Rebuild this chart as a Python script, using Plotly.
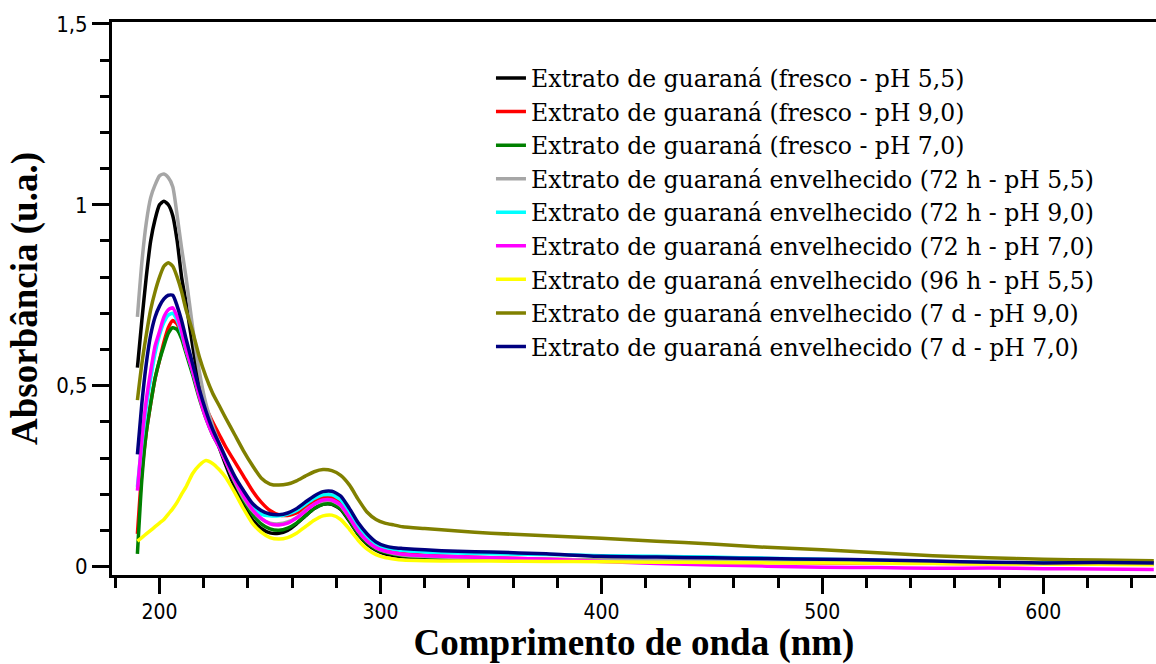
import plotly.graph_objects as go

wavelength = [190, 192, 194, 196, 198, 200, 202, 204, 206, 208, 210, 212, 215, 218, 221, 224, 227, 230,
              234, 238, 242, 246, 250, 254, 258, 262, 266, 270, 274, 278, 282, 286, 290, 294, 298, 302,
              306, 310, 320, 335, 350, 375, 400, 425, 450, 475, 500, 525, 550, 575, 600, 625, 650]

fresco_ph55 = [0.55, 0.68, 0.80, 0.90, 0.96, 1.00, 1.01, 1.00, 0.97, 0.90, 0.80, 0.73, 0.61, 0.51, 0.44, 0.38, 0.33, 0.28,
               0.22, 0.17, 0.13, 0.105, 0.093, 0.092, 0.10, 0.118, 0.14, 0.16, 0.172, 0.172, 0.158, 0.125, 0.088, 0.062, 0.045, 0.035,
               0.030, 0.027, 0.024, 0.022, 0.020, 0.018, 0.016, 0.015, 0.014, 0.013, 0.012, 0.011, 0.010, 0.010, 0.009, 0.009, 0.008]

fresco_ph90 = [0.09, 0.26, 0.37, 0.45, 0.52, 0.57, 0.62, 0.66, 0.68, 0.67, 0.64, 0.60, 0.545, 0.49, 0.44, 0.40, 0.365, 0.33,
               0.29, 0.25, 0.21, 0.178, 0.155, 0.143, 0.141, 0.148, 0.163, 0.18, 0.19, 0.19, 0.176, 0.14, 0.102, 0.074, 0.056, 0.046,
               0.040, 0.036, 0.031, 0.027, 0.024, 0.020, 0.017, 0.015, 0.013, 0.012, 0.010, 0.010, 0.009, 0.008, 0.008, 0.007, 0.007]

fresco_ph70 = [0.035, 0.24, 0.37, 0.45, 0.52, 0.57, 0.61, 0.645, 0.66, 0.655, 0.63, 0.59, 0.53, 0.465, 0.41, 0.365, 0.33, 0.29,
               0.235, 0.185, 0.145, 0.118, 0.104, 0.10, 0.106, 0.12, 0.14, 0.16, 0.172, 0.173, 0.16, 0.127, 0.09, 0.065, 0.048, 0.039,
               0.034, 0.030, 0.026, 0.023, 0.021, 0.019, 0.017, 0.016, 0.015, 0.014, 0.013, 0.012, 0.011, 0.010, 0.010, 0.009, 0.009]

env72_ph55 = [0.69, 0.84, 0.95, 1.02, 1.055, 1.08, 1.085, 1.075, 1.05, 0.97, 0.88, 0.80, 0.66, 0.54, 0.45, 0.39, 0.34, 0.29,
              0.235, 0.19, 0.155, 0.132, 0.12, 0.118, 0.123, 0.135, 0.155, 0.172, 0.182, 0.182, 0.168, 0.135, 0.098, 0.07, 0.052, 0.042,
              0.036, 0.032, 0.028, 0.025, 0.023, 0.020, 0.018, 0.017, 0.016, 0.015, 0.014, 0.013, 0.012, 0.011, 0.010, 0.010, 0.009]

env72_ph90 = [0.22, 0.34, 0.44, 0.52, 0.59, 0.64, 0.675, 0.695, 0.70, 0.68, 0.645, 0.60, 0.54, 0.475, 0.415, 0.37, 0.335, 0.295,
              0.245, 0.20, 0.165, 0.145, 0.14, 0.14, 0.145, 0.155, 0.172, 0.188, 0.198, 0.198, 0.185, 0.15, 0.112, 0.083, 0.063, 0.052,
              0.047, 0.044, 0.040, 0.037, 0.035, 0.033, 0.030, 0.028, 0.026, 0.023, 0.020, 0.017, 0.014, 0.011, 0.009, 0.008, 0.007]

env72_ph70 = [0.21, 0.35, 0.46, 0.54, 0.61, 0.65, 0.69, 0.71, 0.715, 0.69, 0.65, 0.60, 0.54, 0.47, 0.41, 0.365, 0.33, 0.29,
              0.24, 0.195, 0.158, 0.133, 0.118, 0.115, 0.12, 0.134, 0.153, 0.172, 0.184, 0.184, 0.17, 0.135, 0.097, 0.07, 0.052, 0.043,
              0.038, 0.034, 0.030, 0.027, 0.024, 0.020, 0.014, 0.008, 0.004, 0.001, -0.002, -0.003, -0.005, -0.004, -0.006, -0.007, -0.008]

env96_ph55 = [0.07, 0.08, 0.09, 0.10, 0.11, 0.12, 0.13, 0.145, 0.16, 0.178, 0.20, 0.22, 0.257, 0.28, 0.293, 0.285, 0.268, 0.246,
              0.205, 0.16, 0.12, 0.095, 0.08, 0.076, 0.08, 0.092, 0.11, 0.128, 0.14, 0.142, 0.13, 0.103, 0.072, 0.048, 0.033, 0.025,
              0.021, 0.018, 0.016, 0.015, 0.015, 0.014, 0.013, 0.012, 0.011, 0.010, 0.010, 0.009, 0.008, 0.007, 0.007, 0.006, 0.005]

env7d_ph90 = [0.46, 0.56, 0.64, 0.71, 0.76, 0.80, 0.83, 0.84, 0.83, 0.80, 0.76, 0.71, 0.65, 0.58, 0.525, 0.48, 0.445, 0.41,
              0.365, 0.32, 0.28, 0.245, 0.228, 0.225, 0.228, 0.237, 0.25, 0.262, 0.268, 0.265, 0.252, 0.225, 0.185, 0.15, 0.13, 0.12,
              0.115, 0.11, 0.105, 0.098, 0.092, 0.085, 0.078, 0.07, 0.062, 0.053, 0.046, 0.038, 0.030, 0.024, 0.020, 0.018, 0.016]

env7d_ph70 = [0.31, 0.45, 0.56, 0.64, 0.69, 0.72, 0.74, 0.75, 0.75, 0.72, 0.68, 0.63, 0.56, 0.49, 0.43, 0.38, 0.34, 0.30,
              0.25, 0.21, 0.175, 0.155, 0.145, 0.143, 0.148, 0.16, 0.178, 0.195, 0.207, 0.208, 0.195, 0.16, 0.12, 0.09, 0.068, 0.057,
              0.052, 0.050, 0.046, 0.042, 0.040, 0.035, 0.028, 0.026, 0.024, 0.022, 0.020, 0.018, 0.015, 0.012, 0.010, 0.011, 0.010]

series_names = [
    "Extrato de guaraná (fresco - pH 5,5)",
    "Extrato de guaraná (fresco - pH 9,0)",
    "Extrato de guaraná (fresco - pH 7,0)",
    "Extrato de guaraná envelhecido (72 h - pH 5,5)",
    "Extrato de guaraná envelhecido (72 h - pH 9,0)",
    "Extrato de guaraná envelhecido (72 h - pH 7,0)",
    "Extrato de guaraná envelhecido (96 h - pH 5,5)",
    "Extrato de guaraná envelhecido (7 d - pH 9,0)",
    "Extrato de guaraná envelhecido (7 d - pH 7,0)",
]
series_values = [fresco_ph55, fresco_ph90, fresco_ph70, env72_ph55, env72_ph90,
                 env72_ph70, env96_ph55, env7d_ph90, env7d_ph70]
series_colors = ["#000000", "#ff0000", "#008000", "#a6a6a6", "#00ffff",
                 "#ff00ff", "#ffff00", "#808000", "#000080"]

x_ticks = [200, 300, 400, 500, 600]
y_ticks = [0, 0.5, 1, 1.5]
y_tick_labels = ["0", "0,5", "1", "1,5"]

fig = go.Figure()
for name, vals, col in zip(series_names, series_values, series_colors):
    fig.add_trace(go.Scatter(x=wavelength, y=vals, name=name, mode="lines",
                             line=dict(color=col, width=3.5, shape="spline", smoothing=0.6)))

serif = "Liberation Serif"
tick_font = dict(family="DejaVu Sans Condensed, DejaVu Sans, sans-serif", size=22, color="black")
xtick_font = dict(family="DejaVu Sans Condensed, DejaVu Sans, sans-serif", size=21, color="black")
title_font = dict(family=serif, size=37, color="black", weight="bold")

fig.update_layout(
    width=1156, height=664,
    margin=dict(l=112, r=0, t=22, b=89),
    font=dict(family=serif, size=24, color="black"),
    paper_bgcolor="white", plot_bgcolor="white",
    showlegend=True,
    legend=dict(x=0.363, y=0.938, xanchor="left", yanchor="top",
                font=dict(family="DejaVu Serif, Liberation Serif, serif", size=23.5, color="black"),
                bgcolor="rgba(0,0,0,0)", itemwidth=30, tracegroupgap=0),
    xaxis=dict(range=[178.5, 651], tickvals=x_ticks, ticks="outside", ticklen=16, tickwidth=3,
               tickcolor="black", showline=True, linewidth=3, linecolor="black", mirror=True,
               showgrid=False, zeroline=False, tickfont=xtick_font, automargin=False,
               minor=dict(dtick=20, tick0=0, ticks="outside", ticklen=10, tickwidth=3, tickcolor="black", showgrid=False),
               title=dict(text="Comprimento de onda (nm)", font=title_font, standoff=19)),
    yaxis=dict(range=[-0.0235, 1.5055], tickvals=y_ticks, ticktext=y_tick_labels, ticks="outside",
               ticklen=17, tickwidth=3, tickcolor="black", showline=True, linewidth=3, linecolor="black",
               showgrid=False, zeroline=False, tickfont=tick_font, automargin=False,
               minor=dict(dtick=0.1, tick0=0, ticks="outside", ticklen=9, tickwidth=3, tickcolor="black", showgrid=False),
               title=dict(text="Absorbância (u.a.)", font=title_font, standoff=8)),
)

fig.write_html("out.html")
